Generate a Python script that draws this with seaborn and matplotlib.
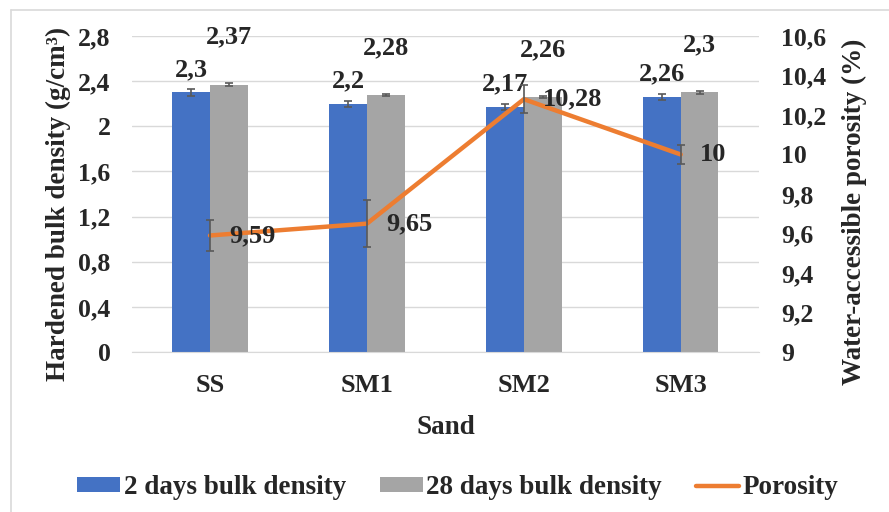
import numpy as np
import pandas as pd
import matplotlib
matplotlib.use("Agg")
import matplotlib.pyplot as plt
from matplotlib.lines import Line2D
from matplotlib.ticker import FuncFormatter, MultipleLocator
import seaborn as sns

# ---- data ----
categories = ["SS", "SM1", "SM2", "SM3"]
density_2d = [2.30, 2.20, 2.17, 2.26]
density_28d = [2.37, 2.28, 2.26, 2.30]
err_2d = [0.03, 0.025, 0.025, 0.03]
err_28d = [0.01, 0.01, 0.01, 0.01]
porosity = [9.59, 9.65, 10.28, 10.00]
porosity_err = [0.08, 0.12, 0.07, 0.05]
series_names = ["2 days bulk density", "28 days bulk density", "Porosity"]

BLUE, GRAY, ORANGE = "#4472C4", "#A5A5A5", "#ED7D31"
ERR = "#595959"
GRID = "#D9D9D9"

sns.set_style("white")
plt.rcParams["font.family"] = ["Liberation Serif", "DejaVu Serif"]
plt.rcParams["font.weight"] = "bold"
plt.rcParams["axes.labelweight"] = "bold"

TICK_FS = 18.5
LABEL_FS = 19
AXIS_FS = 19.5


def comma(v):
    s = f"{v:.2f}".rstrip("0").rstrip(".")
    return s.replace(".", ",")


df = pd.DataFrame({
    "Sand": categories * 2,
    "density": density_2d + density_28d,
    "series": [series_names[0]] * 4 + [series_names[1]] * 4,
})

fig = plt.figure(figsize=(8.89, 5.12), dpi=100)
ax = fig.add_axes([0.148, 0.3125, 0.706, 0.6172])

sns.barplot(data=df, x="Sand", y="density", hue="series",
            hue_order=series_names[:2], palette=[BLUE, GRAY],
            width=0.48, linewidth=0, saturation=1, ax=ax)

ax.set_ylim(0, 2.8)
ax.set_xlim(-0.5, len(categories) - 0.5)
ax.yaxis.set_major_locator(MultipleLocator(0.4))
ax.yaxis.set_major_formatter(FuncFormatter(lambda v, p: comma(round(v, 2))))
ax.grid(axis="y", color=GRID, lw=1)
ax.set_axisbelow(True)
for s in ["left", "right", "top"]:
    ax.spines[s].set_visible(False)
ax.spines["bottom"].set_color(GRID)
ax.tick_params(axis="both", length=0)
ax.tick_params(axis="y", labelsize=TICK_FS, pad=15)
ax.tick_params(axis="x", labelsize=LABEL_FS, pad=16)
for t in ax.get_xticklabels() + ax.get_yticklabels():
    t.set_fontweight("bold")
ax.set_xlabel("Sand", fontsize=AXIS_FS, labelpad=13, fontweight="bold")
ax.set_ylabel("Hardened bulk density (g/cm³)", fontsize=AXIS_FS, labelpad=5,
              fontweight="bold")

# error bars and value labels on the bars
for cont, vals, errs, dy in zip(ax.containers, [density_2d, density_28d],
                                [err_2d, err_28d], [16.5, 34]):
    xs = [r.get_x() + r.get_width() / 2 for r in cont]
    ax.errorbar(xs, vals, yerr=errs, fmt="none", ecolor=ERR,
                elinewidth=1.2, capsize=3.2, capthick=1.2)
    for x, v in zip(xs, vals):
        ax.annotate(comma(v), (x, v), xytext=(0, dy), textcoords="offset points",
                    ha="center", va="center", fontsize=LABEL_FS, fontweight="bold")

handles, labels = ax.get_legend_handles_labels()
ax.legend_.remove()

# porosity on the secondary axis
ax2 = ax.twinx()
xpos = np.arange(len(categories))
sns.lineplot(x=xpos, y=porosity, ax=ax2, color=ORANGE, lw=3.2,
             label=series_names[2], legend=False)
ax2.errorbar(xpos, porosity, yerr=porosity_err, fmt="none", ecolor=ERR,
             elinewidth=1.2, capsize=3.2, capthick=1.2)
for x, v in zip(xpos, porosity):
    ax2.annotate(comma(v), (x, v), xytext=(14, 0), textcoords="offset points",
                 ha="left", va="center", fontsize=LABEL_FS, fontweight="bold")
ax2.set_ylim(9, 10.6)
ax2.set_xlim(-0.5, len(categories) - 0.5)
ax2.yaxis.set_major_locator(MultipleLocator(0.2))
ax2.yaxis.set_major_formatter(FuncFormatter(lambda v, p: comma(round(v, 2))))
for s in ["left", "right", "top", "bottom"]:
    ax2.spines[s].set_visible(False)
ax2.tick_params(axis="y", length=0, labelsize=TICK_FS, pad=16)
for t in ax2.get_yticklabels():
    t.set_fontweight("bold")
ax2.set_ylabel("Water-accessible porosity (%)", fontsize=AXIS_FS, labelpad=11,
               fontweight="bold")

# shift the axis titles slightly below the plot-area centre
ax.yaxis.label.set_y(0.47)
ax2.yaxis.label.set_y(0.445)

h2, l2 = ax2.get_legend_handles_labels()
fig.legend(handles + h2, labels + l2, loc="center", bbox_to_anchor=(0.5146, 0.047),
           ncol=3, frameon=False, prop={"size": AXIS_FS, "weight": "bold"},
           handlelength=1.6, handleheight=0.48, handletextpad=0.12,
           columnspacing=1.25)

# chart frame
fig.add_artist(Line2D([11 / 889, 11 / 889], [0, 1 - 10 / 512],
                      transform=fig.transFigure, color=GRID, lw=1.2))
fig.add_artist(Line2D([11 / 889, 1], [1 - 10 / 512, 1 - 10 / 512],
                      transform=fig.transFigure, color=GRID, lw=1.2))

fig.savefig("out.png", dpi=100)
